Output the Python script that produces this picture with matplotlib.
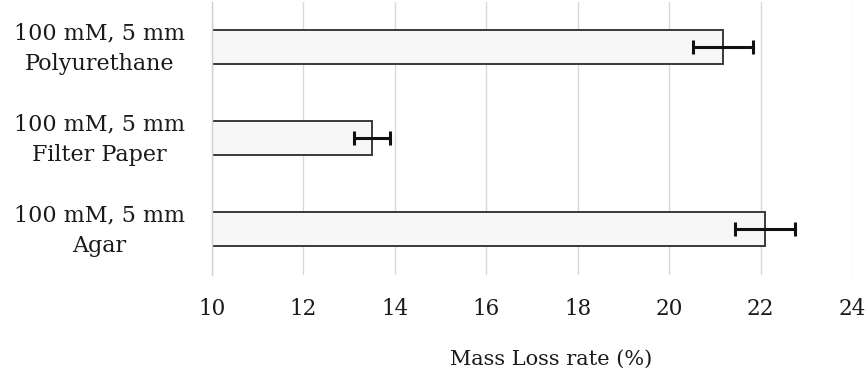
import matplotlib
matplotlib.use("Agg")
import matplotlib.pyplot as plt
import matplotlib.transforms as mtransforms
import numpy as np

categories = ["100 mM, 5 mm\nPolyurethane", "100 mM, 5 mm\nFilter Paper", "100 mM, 5 mm\nAgar"]
values = [21.18, 13.5, 22.1]
errors = [0.65, 0.39, 0.66]
xticks = [10, 12, 14, 16, 18, 20, 22, 24]
xlabel = "Mass Loss rate (%)"

plt.rcParams['font.family'] = ['DejaVu Serif']

fig = plt.figure(figsize=(8.67, 3.78), dpi=100)
ax = fig.add_axes([212/867, 1 - 274.5/378, (852-212)/867, (274.5-1.5)/378])

y = np.arange(len(categories))
ax.barh(y, np.array(values) - 10, left=10, height=0.37, color='#f7f7f7',
        edgecolor='#3a3a3a', linewidth=1.4, zorder=2)
ax.errorbar(values, y, xerr=errors, fmt='none', ecolor='#111111', elinewidth=2.2,
            capsize=4.7, capthick=2.2, zorder=3)

ax.set_xlim(10, 24)
ax.set_ylim(len(categories) - 0.5, -0.5)
ax.set_xticks(xticks)
ax.set_xticklabels([str(t) for t in xticks], fontsize=15.5, color='#1a1a1a')
ax.set_yticks(y)
ax.set_yticklabels(categories, fontsize=16, color='#1a1a1a', ha='center', linespacing=1.5)
ax.tick_params(axis='y', length=0, pad=81)
ax.tick_params(axis='x', length=0, pad=17)
shift = mtransforms.ScaledTranslation(0, 5/100, fig.dpi_scale_trans)
for lab in ax.get_yticklabels():
    lab.set_transform(lab.get_transform() + shift)
ax.xaxis.grid(True, color='#d9d9d9', linewidth=1, zorder=0)
ax.set_axisbelow(True)
for s in ['top', 'right', 'bottom']:
    ax.spines[s].set_visible(False)
ax.spines['left'].set_color('#d0d0d0')
ax.spines['left'].set_linewidth(1)
ax.set_xlabel(xlabel, fontsize=15, color='#1a1a1a')
ax.xaxis.set_label_coords((551 - 212) / 640, (274.5 - 359) / 273, transform=ax.transAxes)
ax.xaxis.label.set_va('center')

fig.savefig("out.png", dpi=100)
